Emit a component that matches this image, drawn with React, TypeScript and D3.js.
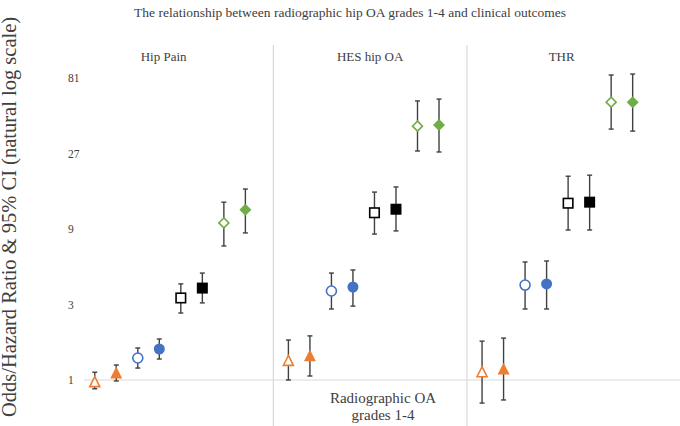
import React from "react";
import * as d3 from "d3";

const panels = ["Hip Pain", "HES hip OA", "THR"];
const panelLabelPos = [3.2, 12.8, 21.7];
const separatorPos = [8.3, 17.3];
const yTicks = [1, 3, 9, 27, 81];
const shapes = ["triangle", "triangle", "circle", "circle", "square", "square", "diamond", "diamond"];
const filled = [false, true, false, true, false, true, false, true];
const colors = ["#ED7D31", "#ED7D31", "#4472C4", "#4472C4", "#000000", "#000000", "#70AD47", "#70AD47"];

// estimates, lower CI, upper CI per panel (8 points each)
const estHipPain = [0.97, 1.107, 1.377, 1.57, 3.3, 3.81, 9.83, 11.9];
const lowHipPain = [0.88, 0.986, 1.19, 1.357, 2.65, 3.07, 7.03, 8.5];
const upHipPain = [1.12, 1.244, 1.593, 1.816, 4.05, 4.74, 13.3, 16.1];

const estHES = [1.32, 1.42, 3.65, 3.87, 11.4, 12.0, 40.2, 40.9];
const lowHES = [1.0, 1.06, 2.81, 2.93, 8.36, 8.75, 28.0, 27.6];
const upHES = [1.79, 1.9, 4.74, 4.96, 15.4, 16.6, 58.0, 59.6];

const estTHR = [1.12, 1.17, 3.98, 4.05, 13.1, 13.3, 57.0, 57.0];
const lowTHR = [0.715, 0.748, 2.81, 2.81, 8.87, 8.87, 38.5, 37.4];
const upTHR = [1.76, 1.84, 5.57, 5.65, 19.4, 19.7, 84.6, 85.8];

const estAll = [estHipPain, estHES, estTHR];
const lowAll = [lowHipPain, lowHES, lowTHR];
const upAll = [upHipPain, upHES, upTHR];

const W = 680;
const H = 426;

export default function App() {
  const x = d3.scaleLinear().domain([-0.5, 27.2]).range([84, 680]);
  const y = d3.scaleLog().base(3).domain([1, 81]).range([380, 78]);
  const serif = "'Liberation Serif', 'Times New Roman', serif";

  const points: any[] = [];
  panels.forEach((_, p) => {
    estAll[p].forEach((v, i) => {
      points.push({
        idx: p * 9 + i,
        v,
        lo: lowAll[p][i],
        hi: upAll[p][i],
        shape: shapes[i],
        filled: filled[i],
        color: colors[i],
      });
    });
  });

  const marker = (d: any) => {
    const cx = x(d.idx);
    const cy = y(d.v);
    const fill = d.filled ? d.color : "#ffffff";
    const sw = 1.6;
    if (d.shape === "circle") {
      const r = d.filled ? 5.5 : 5;
      return <circle cx={cx} cy={cy} r={r} fill={fill} stroke={d.color} strokeWidth={d.filled ? 0 : sw} />;
    }
    if (d.shape === "square") {
      const s = d.filled ? 11 : 9.5;
      return <rect x={cx - s / 2} y={cy - s / 2} width={s} height={s} fill={fill} stroke={d.color} strokeWidth={d.filled ? 0 : sw} />;
    }
    if (d.shape === "triangle") {
      const s = d.filled ? 12 : 10;
      const h = s * 0.9;
      const path = `M${cx},${cy - h / 2 - 1} L${cx + s / 2},${cy + h / 2} L${cx - s / 2},${cy + h / 2} Z`;
      return <path d={path} fill={fill} stroke={d.color} strokeWidth={d.filled ? 0 : sw} strokeLinejoin="miter" />;
    }
    const s = d.filled ? 6 : 5;
    const path = `M${cx},${cy - s} L${cx + s},${cy} L${cx},${cy + s} L${cx - s},${cy} Z`;
    return <path d={path} fill={fill} stroke={d.color} strokeWidth={d.filled ? 0 : sw} />;
  };

  return (
    <svg width={W} height={H} style={{ position: "absolute", left: 0, top: 0, background: "#fff" }}>
      <rect x={0} y={0} width={W} height={H} fill="#ffffff" />
      <text x={350} y={17} textAnchor="middle" fontFamily={serif} fontSize={13.5} fill="#404040">
        The relationship between radiographic hip OA grades 1-4 and clinical outcomes
      </text>
      {/* axis line */}
      <line x1={x(-0.5)} x2={W} y1={y(1)} y2={y(1)} stroke="#d9d9d9" strokeWidth={1.2} />
      {separatorPos.map((s, i) => (
        <line key={i} x1={x(s)} x2={x(s)} y1={45} y2={H} stroke="#d9d9d9" strokeWidth={1.2} />
      ))}
      {yTicks.map((t) => (
        <text key={t} x={68} y={y(t) + 4} fontFamily={serif} fontSize={11.5} fill="#404040">
          {t}
        </text>
      ))}
      <text
        transform={`translate(16, 217) rotate(-90)`}
        textAnchor="middle"
        fontFamily={serif}
        fontSize={20.5}
        fill="#404040"
      >
        Odds/Hazard Ratio &amp; 95% CI (natural log scale)
      </text>
      {panels.map((p, i) => (
        <text key={p} x={x(panelLabelPos[i])} y={61} textAnchor="middle" fontFamily={serif} fontSize={13} fill="#404040">
          {p}
        </text>
      ))}
      <text x={383} y={403} textAnchor="middle" fontFamily={serif} fontSize={15} fill="#404040">
        Radiographic OA
      </text>
      <text x={383} y={420} textAnchor="middle" fontFamily={serif} fontSize={15} fill="#404040">
        grades 1-4
      </text>
      {points.map((d, k) => {
        const cx = x(d.idx);
        return (
          <g key={k}>
            <line x1={cx} x2={cx} y1={y(d.lo)} y2={y(d.hi)} stroke="#404040" strokeWidth={1.4} />
            <line x1={cx - 2.5} x2={cx + 2.5} y1={y(d.lo)} y2={y(d.lo)} stroke="#404040" strokeWidth={1.4} />
            <line x1={cx - 2.5} x2={cx + 2.5} y1={y(d.hi)} y2={y(d.hi)} stroke="#404040" strokeWidth={1.4} />
            {marker(d)}
          </g>
        );
      })}
    </svg>
  );
}
